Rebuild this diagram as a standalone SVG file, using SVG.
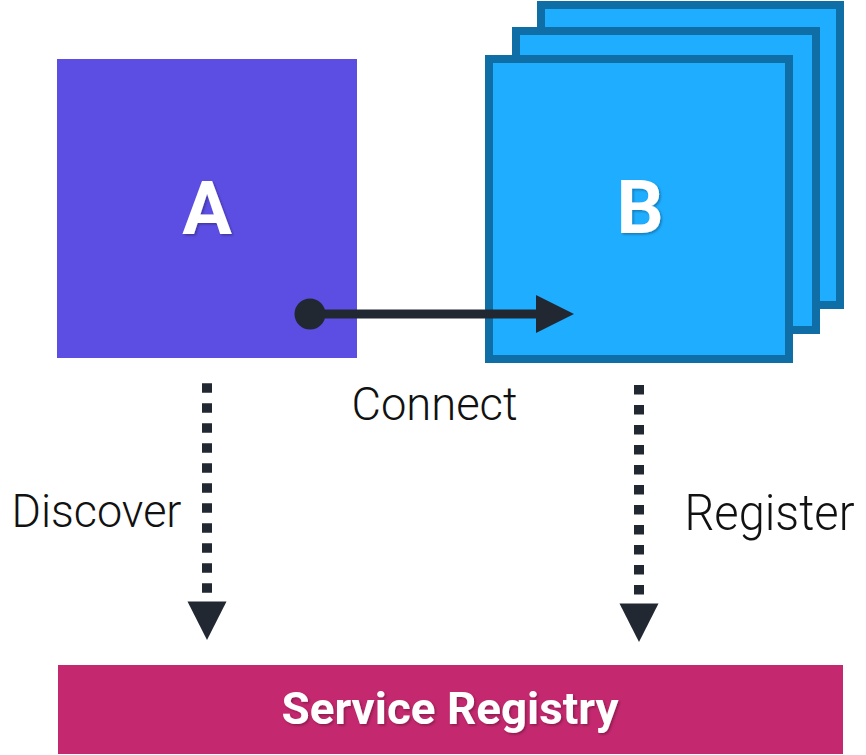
<svg xmlns="http://www.w3.org/2000/svg" width="866" height="755" viewBox="0 0 866 755">
  <style>
    .title { font-family: Roboto, "Open Sans", "Liberation Sans", sans-serif; font-weight: 700; fill: #ffffff; }
    .label { font-family: Roboto, "Open Sans", "Liberation Sans", sans-serif; font-weight: 300; fill: #111111; }
    .frame { fill: #1fadff; stroke: #0f6ea6; stroke-width: 8; }
    .dotted { stroke: #212831; stroke-width: 10; stroke-dasharray: 9.5 10.5; fill: none; }
    .ink { fill: #212831; }
  </style>
  <defs>
    <filter id="soft-shadow" x="-10%" y="-10%" width="130%" height="140%">
      <feDropShadow dx="1.5" dy="1.5" stdDeviation="1" flood-color="#000000" flood-opacity="0.3"/>
    </filter>
  </defs>

  <rect width="866" height="755" fill="#ffffff"/>

  <!-- Service A -->
  <g id="node-a">
    <rect x="57" y="59" width="300" height="299" fill="#5c4ee3"/>
    <text class="title" x="207" y="234" text-anchor="middle" font-size="74" filter="url(#soft-shadow)">A</text>
  </g>

  <!-- Service B: three stacked instances -->
  <g id="node-b">
    <rect class="frame" x="541" y="5" width="299" height="300"/>
    <rect class="frame" x="516" y="31" width="300" height="299"/>
    <rect class="frame" x="489" y="59" width="300" height="300"/>
    <text class="title" x="640" y="233" text-anchor="middle" font-size="74" filter="url(#soft-shadow)">B</text>
  </g>

  <!-- Registry bar -->
  <g id="node-registry">
    <rect x="58" y="665" width="785" height="89" fill="#c4286e"/>
    <text class="title" x="450" y="724" text-anchor="middle" font-size="45" textLength="337" lengthAdjust="spacingAndGlyphs" filter="url(#soft-shadow)">Service Registry</text>
  </g>

  <!-- Connectors -->
  <g id="connectors">
    <!-- A connects to B -->
    <line x1="310" y1="314" x2="540" y2="314" stroke="#212831" stroke-width="9"/>
    <circle class="ink" cx="310" cy="314" r="15.5"/>
    <polygon class="ink" points="536,295 574,314 536,333"/>

    <!-- A discovers via registry -->
    <line class="dotted" x1="207" y1="383.3" x2="207" y2="593"/>
    <polygon class="ink" points="187.5,601.5 226.5,601.5 207,640"/>

    <!-- B registers with registry -->
    <line class="dotted" x1="639" y1="385" x2="639" y2="595"/>
    <polygon class="ink" points="619.5,603.5 658.5,603.5 639,642"/>
  </g>

  <!-- Connector labels -->
  <g id="labels">
    <text class="label" x="351.5" y="420" font-size="46" textLength="166" lengthAdjust="spacingAndGlyphs">Connect</text>
    <text class="label" x="11.5" y="527" font-size="47" textLength="170" lengthAdjust="spacingAndGlyphs">Discover</text>
    <text class="label" x="684.5" y="530" font-size="50" textLength="170" lengthAdjust="spacingAndGlyphs">Register</text>
  </g>
</svg>
